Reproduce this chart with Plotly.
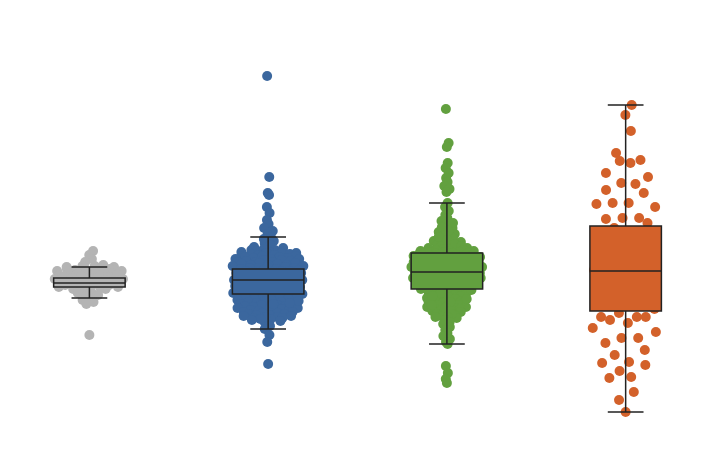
import numpy as np
import plotly.graph_objects as go

# ---------------- data ----------------
group_names = ["Group A", "Group B", "Group C", "Group D"]
group_colors = ["#b4b4b4", "#3b679e", "#62a03f", "#d3612a"]

gray_vals = [132, 216, 212, 208, 205,
             202, 201, 201, 200, 200, 199, 199, 198, 198, 197, 197, 196, 196, 195, 195, 194, 194,
             193, 193, 192, 192, 191, 191, 190, 190, 189, 189, 188, 188, 187, 187, 186, 186, 185,
             185, 184, 184, 183, 183, 182, 182, 181, 181, 180, 180, 179, 179, 178, 178, 177,
             175, 174, 172, 171, 169, 167, 165, 163]

blue_vals = [391, 290, 274, 272, 260, 254, 247, 243, 239, 236, 233, 230, 228, 226, 224, 222, 220,
             219, 218,
             217, 217, 216, 216, 215, 215, 214, 214, 214, 213, 213, 212, 212, 211, 211, 211, 210,
             210, 209, 209, 208, 208, 208, 207, 207, 206, 206, 205, 205, 205, 204, 204, 203, 203,
             202, 202, 202, 201, 201, 200, 200, 199, 199, 199, 198, 198, 197, 197, 196, 196, 196,
             195, 195, 194, 194, 193, 193, 193, 192, 192, 191, 191, 190, 190, 190, 189, 189, 188,
             188, 187, 187, 187, 186, 186, 185, 185, 184, 184, 184, 183, 183, 182, 182, 181, 181,
             181, 180, 180, 179, 179, 178, 178, 178, 177, 177, 176, 176, 175, 175, 175, 174, 174,
             173, 173, 172, 172, 172, 171, 171, 170, 170, 169, 169, 169, 168, 168, 167, 167,
             166, 165, 165, 164, 163, 163, 162, 161, 161, 160, 159, 158, 158, 157, 156, 155, 154,
             153, 152, 151, 150, 149, 148, 146, 145,
             166, 164, 163, 162, 160, 159, 157, 156, 155, 154, 153, 152, 151, 150, 149, 148, 147,
             141, 138, 132, 125, 103]

green_vals = [358, 324, 320, 304, 299, 294, 289, 285, 281, 278, 275,
              264, 260, 256, 252, 249, 246, 243, 241, 239, 237, 235, 233, 231, 229, 228, 226, 225,
              224, 222, 221, 220, 219, 218,
              244, 240, 236, 232, 230, 227, 223, 221, 219, 218,
              217, 217, 217, 216, 216, 216, 215, 215, 215, 214, 214, 214, 213, 213, 213, 212, 212,
              212, 211, 211, 211, 210, 210, 210, 209, 209, 209, 208, 208, 208, 207, 207, 207, 206,
              206, 206, 205, 205, 205, 204, 204, 204, 203, 203, 203, 202, 202, 202, 201, 201, 201,
              200, 200, 200, 199, 199, 199, 198, 198, 198, 197, 197, 197, 196, 196, 196, 195, 195,
              195, 194, 194, 194, 193, 193, 193, 192, 192, 192, 191, 191, 191, 190, 190, 190, 189,
              189, 189, 188, 188, 188, 187, 187, 187, 186, 186, 186, 185, 185, 185, 184, 184, 184,
              183, 183, 183, 182, 182, 182, 181, 181, 181, 180, 180, 180,
              179, 178, 178, 177, 176, 176, 175, 174, 174, 173, 172, 172, 171, 170, 170, 169, 168,
              168, 167, 166, 166, 165, 164, 164, 163, 162, 162, 161, 160, 160, 159, 158, 158, 157,
              156, 155, 154, 153, 152, 151, 150, 149,
              177, 174, 171, 168, 165, 162, 159, 156, 153, 150,
              147, 145, 143, 140, 137, 134, 131, 128, 125, 123,
              101, 94, 88, 84]

orange_vals = [362, 352, 336, 314, 307, 306, 304, 294, 290, 284, 283, 277, 274, 264, 264, 263, 260,
               249, 248, 249, 244, 239, 235, 231, 227, 222, 217, 212, 209, 205, 201, 197, 195, 192,
               187, 182, 177, 172, 167, 162, 158, 154, 147, 150, 150, 150, 144, 139, 135, 129, 129,
               124, 117, 112, 105, 104, 102, 96, 89, 90, 75, 67, 55]

# box statistics
box_q1 = [180, 173, 178, 156]
box_median = [184, 187, 195, 196]
box_q3 = [189, 198, 214, 241]
box_lower = [169, 138, 123, 55]
box_upper = [200, 230, 264, 362]

all_vals = [gray_vals, blue_vals, green_vals, orange_vals]


# ---------------- quasirandom (sina-like) offsets ----------------
def bw_nrd0(v):
    sd = np.std(v, ddof=1)
    iqr = np.percentile(v, 75) - np.percentile(v, 25)
    lo = min(sd, iqr / 1.34) if iqr > 0 else sd
    return 0.9 * lo * len(v) ** -0.2


def van_der_corput(n, base=2):
    q, denom = 0.0, 1.0
    while n:
        denom *= base
        n, r = divmod(n, base)
        q += r / denom
    return q


def quasirandom_offsets(vals, width, adjust=0.5):
    v = np.asarray(vals, float)
    n = len(v)
    h = bw_nrd0(v) * adjust
    d = np.exp(-0.5 * ((v[:, None] - v[None, :]) / h) ** 2).sum(1)
    d = d / d.max()
    order = np.argsort(v, kind="stable")
    ranks = np.empty(n, int)
    ranks[order] = np.arange(n)
    vdc = np.array([van_der_corput(r + 1) for r in ranks])
    return (vdc * 2 - 1) * d * width


fig = go.Figure()

for i, (vals, col) in enumerate(zip(all_vals, group_colors)):
    off = quasirandom_offsets(vals, 0.2, adjust=0.5 if i < 3 else 0.8)
    fig.add_trace(go.Scatter(
        x=i + off, y=vals, mode="markers",
        marker=dict(size=10, color=col, line=dict(width=0)),
        name=group_names[i], hoverinfo="y", showlegend=False,
    ))

for i, col in enumerate(group_colors):
    fig.add_trace(go.Box(
        x=[i], q1=[box_q1[i]], median=[box_median[i]], q3=[box_q3[i]],
        lowerfence=[box_lower[i]], upperfence=[box_upper[i]],
        width=0.4, whiskerwidth=0.5, fillcolor=col,
        line=dict(color="#222222", width=1.5),
        boxpoints=False, name=group_names[i], showlegend=False,
        xaxis="x2", yaxis="y2",
    ))

# page body has an 8px margin, so the figure is sized/offset to fit the window
x_range = [-0.4554, 3.4551]
y_range = [8, 459]
axis_common = dict(visible=False, showgrid=False, zeroline=False, fixedrange=True)
fig.update_layout(
    width=699, height=451,
    margin=dict(l=0, r=0, t=0, b=0),
    paper_bgcolor="white", plot_bgcolor="white",
    showlegend=False,
    xaxis=dict(range=x_range, **axis_common),
    yaxis=dict(range=y_range, **axis_common),
    xaxis2=dict(range=x_range, overlaying="x", **axis_common),
    yaxis2=dict(range=y_range, overlaying="y", **axis_common),
)

fig.write_html("out.html")
